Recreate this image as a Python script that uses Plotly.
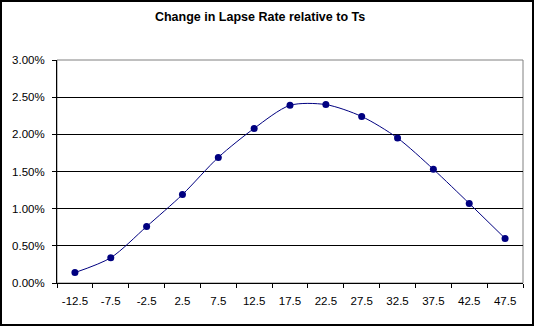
import plotly.graph_objects as go

categories = ["-12.5", "-7.5", "-2.5", "2.5", "7.5", "12.5", "17.5",
              "22.5", "27.5", "32.5", "37.5", "42.5", "47.5"]
values = [0.0014, 0.0034, 0.0076, 0.0119, 0.0169, 0.0208, 0.0239,
          0.0240, 0.0224, 0.0195, 0.0153, 0.0107, 0.0060]
title_text = "Change in Lapse Rate relative to Ts"

W, H = 534, 326
L, R, T, B = 57, 11, 60, 43
pw, ph = W - L - R, H - T - B

fig = go.Figure()
fig.add_trace(go.Scatter(
    x=categories, y=values, mode="lines+markers",
    line=dict(color="#000080", width=1, shape="spline", smoothing=0.8),
    marker=dict(color="#000080", size=7, symbol="circle"),
    showlegend=False,
))

font = "Arial, Liberation Sans, sans-serif"
fig.update_layout(
    width=W, height=H,
    margin=dict(l=L, r=R, t=T, b=B),
    paper_bgcolor="white", plot_bgcolor="white",
    title=dict(text="<b>" + title_text + "</b>", x=0.487, xanchor="center",
               y=1 - 17 / H, yanchor="middle",
               font=dict(family=font, size=12.5, color="black")),
    xaxis=dict(type="category", tickson="boundaries", ticks="outside",
               ticklen=4, tickcolor="black", showline=True, linecolor="black",
               linewidth=1, showgrid=False, zeroline=False,
               ticklabelstandoff=7,
               tickfont=dict(family=font, size=11.5, color="black"),
               range=[-0.5, len(categories) - 0.5]),
    yaxis=dict(range=[0, 0.03], dtick=0.005, tickformat=".2%",
               ticks="outside", ticklen=4, tickcolor="black",
               showline=True, linecolor="black", linewidth=1,
               showgrid=True, gridcolor="black", gridwidth=1,
               zeroline=False, ticklabelstandoff=5,
               tickfont=dict(family=font, size=11.5, color="black")),
    shapes=[
        dict(type="rect", xref="paper", yref="paper", x0=0, x1=1, y0=0, y1=1,
             line=dict(color="#808080", width=1), layer="below"),
        dict(type="rect", xref="paper", yref="paper",
             x0=(1 - L) / pw, x1=(W - 1 - L) / pw,
             y0=-(B - 1) / ph, y1=1 + (T - 1) / ph,
             line=dict(color="black", width=2), layer="above"),
    ],
)

fig.write_html("out.html")
